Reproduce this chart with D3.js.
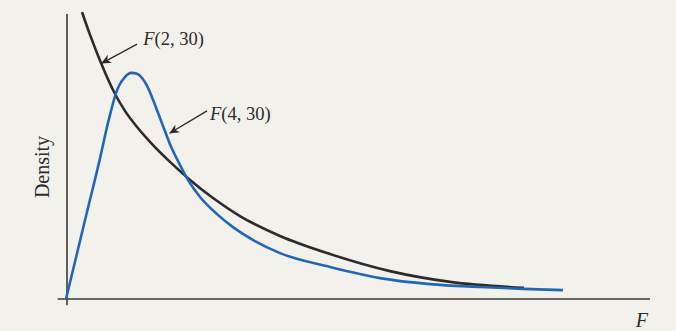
<!DOCTYPE html>
<html><head><meta charset="utf-8">
<script src="https://cdn.jsdelivr.net/npm/d3@7"></script>
<style>
html,body{margin:0;padding:0;background:#f3f1ec;}
svg{display:block;}
</style></head>
<body>
<svg id="chart" width="676" height="331"></svg>
<script>
// values (F, density)
const f230F = [0.115,0.173,0.252,0.338,0.424,0.511,0.626,0.748,0.892,1.057,1.251,1.539,1.899,2.330,2.762,3.294];
const f230D = [0.906,0.834,0.745,0.660,0.594,0.543,0.486,0.433,0.376,0.319,0.262,0.199,0.142,0.088,0.054,0.035];
const f430F = [0,0.144,0.245,0.302,0.331,0.360,0.388,0.424,0.467,0.511,0.547,0.583,0.618,0.654,0.698,0.748,0.805,0.877,0.964,1.086,1.201,1.359,1.539,1.899,2.258,2.618,2.977,3.287,3.574];
const f430D = [0,0.262,0.445,0.556,0.606,0.651,0.679,0.701,0.714,0.711,0.698,0.673,0.638,0.597,0.546,0.489,0.436,0.376,0.322,0.268,0.227,0.183,0.145,0.101,0.066,0.047,0.038,0.032,0.028];
const seriesNames = ["F(2, 30)", "F(4, 30)"];
const xLabel = "F", yLabel = "Density";

const svg = d3.select("#chart");
const x = d3.scaleLinear().domain([0, 4.2]).range([66, 650]);
const y = d3.scaleLinear().domain([0, 0.9]).range([299, 14]);

// axes (no ticks)
svg.append("line").attr("x1", x(-0.06)).attr("x2", x(4.2)).attr("y1", y(0)).attr("y2", y(0))
  .attr("stroke", "#3a3a3a").attr("stroke-width", 1.6);
svg.append("line").attr("x1", x(0)+1).attr("x2", x(0)+1).attr("y1", y(-0.02)).attr("y2", y(0.9))
  .attr("stroke", "#3a3a3a").attr("stroke-width", 1.6);

const line = d3.line().x(d => x(d[0])).y(d => y(d[1])).curve(d3.curveMonotoneX);
const d230 = f230F.map((v,i) => [v, f230D[i]]);
const d430 = f430F.map((v,i) => [v, f430D[i]]);

svg.append("path").attr("d", line(d230)).attr("fill","none").attr("stroke","#2b2b2b").attr("stroke-width",2.6);
svg.append("path").attr("d", line(d430)).attr("fill","none").attr("stroke","#2366b8").attr("stroke-width",2.6);

// annotations
const annots = [
  {name: seriesNames[0], tip:[0.259,0.745], tail:[0.511,0.805], text:[0.555,0.802]},
  {name: seriesNames[1], tip:[0.748,0.524], tail:[1.014,0.594], text:[1.035,0.565]}
];
svg.append("defs").append("marker").attr("id","ah").attr("viewBox","0 0 10 10")
  .attr("refX",9).attr("refY",5).attr("markerWidth",10).attr("markerHeight",10)
  .attr("markerUnits","userSpaceOnUse").attr("orient","auto")
  .append("path").attr("d","M0,0.5 L10,5 L0,9.5 L3,5 Z").attr("fill","#2b2b2b");

annots.forEach(a => {
  svg.append("line").attr("x1", x(a.tail[0])).attr("y1", y(a.tail[1]))
    .attr("x2", x(a.tip[0])).attr("y2", y(a.tip[1]))
    .attr("stroke","#2b2b2b").attr("stroke-width",1.3).attr("marker-end","url(#ah)");
  const t = svg.append("text").attr("x", x(a.text[0])).attr("y", y(a.text[1]))
    .attr("font-family","'Liberation Serif', 'DejaVu Serif', serif").attr("font-size",18.5).attr("fill","#2b2b2b");
  const m = a.name.match(/^F(.*)$/);
  t.append("tspan").attr("font-style","italic").text("F");
  t.append("tspan").text(m[1]);
});

svg.append("text").attr("x", 648).attr("y", 327).attr("text-anchor","end")
  .attr("font-family","'Liberation Serif', serif").attr("font-style","italic").attr("font-size",20)
  .attr("fill","#2b2b2b").text(xLabel);
svg.append("text").attr("transform","translate(49,167) rotate(-90)").attr("text-anchor","middle")
  .attr("font-family","'Liberation Serif', serif").attr("font-size",20)
  .attr("fill","#2b2b2b").text(yLabel);
</script>
</body></html>
